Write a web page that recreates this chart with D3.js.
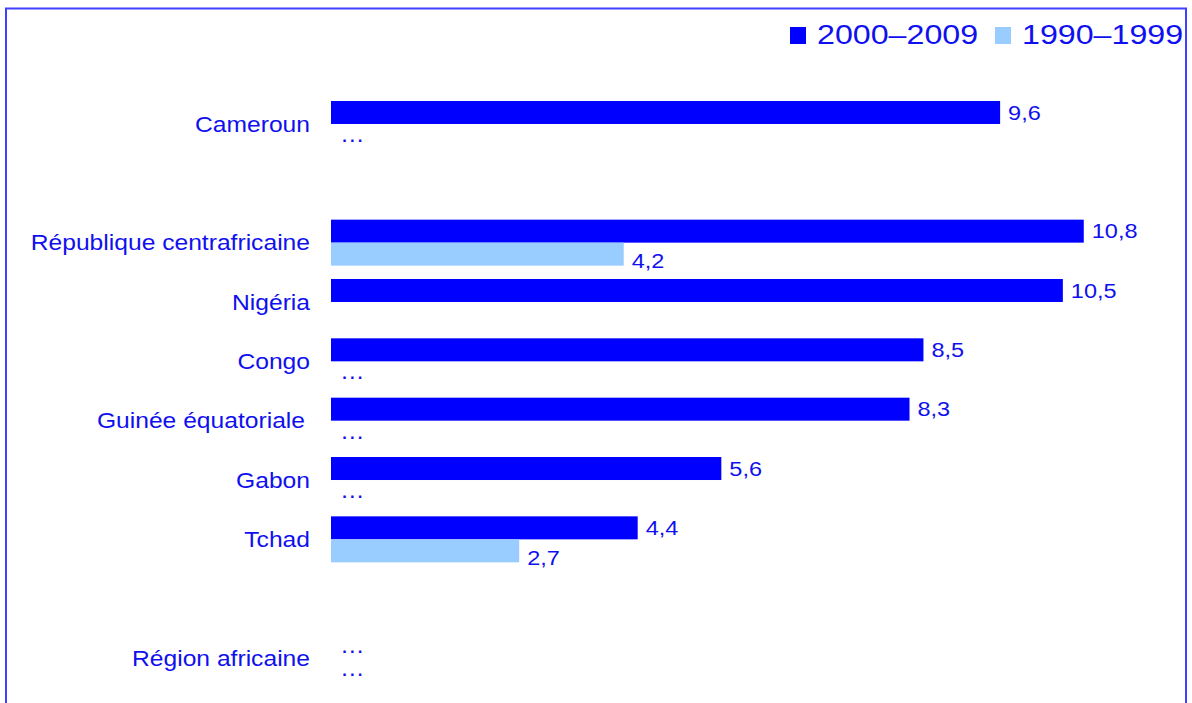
<!DOCTYPE html>
<html>
<head>
<meta charset="utf-8">
<script src="https://cdnjs.cloudflare.com/ajax/libs/d3/7.8.5/d3.min.js"></script>
<style>
  body { margin: 0; background: #fff; }
  text { font-family: "Liberation Sans", Arial, sans-serif; fill: #1010ee; }
</style>
</head>
<body>
<div id="chart"></div>
<script>
const W = 1192, H = 703;

// categories (blank entries are empty gap rows)
const categories = ["Cameroun", "", "République centrafricaine", "Nigéria", "Congo",
                    "Guinée équatoriale", "Gabon", "Tchad", " ", "Région africaine"];
// number = bar, "…" = not available, null = nothing drawn
const v2000 = [9.6, null, 10.8, 10.5, 8.5, 8.3, 5.6, 4.4, null, "…"];
const v1990 = ["…", null, 4.2, null, "…", "…", "…", 2.7, null, "…"];
const seriesNames = ["2000–2009", "1990–1999"];
const seriesColors = ["#0000ff", "#99ccff"];

const STRETCH = 1.12; // glyphs in the original are a bit wider than tall

const svg = d3.select("#chart").append("svg")
    .attr("width", W)
    .attr("height", H);

// frame
svg.append("rect")
   .attr("x", 6).attr("y", 8.5)
   .attr("width", 1180).attr("height", 720)
   .attr("fill", "none")
   .attr("stroke", "#4040ff")
   .attr("stroke-width", 2);

const x = d3.scaleLinear().domain([0, 12]).range([331, 331 + 12 * 69.7]);
const y = d3.scaleBand().domain(categories).range([94.3, 687.7]).padding(0);
const sub = d3.scaleBand().domain(seriesNames).range([-23, 23]);

const rows = categories.map((c, i) => ({cat: c, vals: [v2000[i], v1990[i]]}));

function stretched(sel, tx, ty, k) {
    sel.attr("transform", `translate(${tx},${ty}) scale(${k || STRETCH},1)`);
}

// category labels
svg.append("g").selectAll("text")
   .data(rows.filter(r => r.cat.trim() !== ""))
   .enter().append("text")
   .attr("text-anchor", "end")
   .attr("dominant-baseline", "central")
   .attr("font-size", 22)
   .text(d => d.cat)
   .each(function(d) {
       const off = d.cat.startsWith("Guinée") ? 305 : 310;
       stretched(d3.select(this), off, y(d.cat) + y.bandwidth() / 2);
   });

// bars, value labels and "…" markers
const items = [];
rows.forEach(r => r.vals.forEach((v, j) => {
    if (v !== null) items.push({cat: r.cat, s: j, v: v});
}));

const g = svg.append("g");
const mid = d => y(d.cat) + y.bandwidth() / 2;

g.selectAll("rect.bar")
 .data(items.filter(d => typeof d.v === "number"))
 .enter().append("rect")
 .attr("class", "bar")
 .attr("x", x(0))
 .attr("y", d => mid(d) + sub(seriesNames[d.s]))
 .attr("width", d => x(d.v) - x(0))
 .attr("height", sub.bandwidth())
 .attr("fill", d => seriesColors[d.s]);

g.selectAll("text.val")
 .data(items.filter(d => typeof d.v === "number"))
 .enter().append("text")
 .attr("class", "val")
 .attr("dominant-baseline", "central")
 .attr("font-size", 21)
 .text(d => d3.format(".1f")(d.v).replace(".", ","))
 .each(function(d) {
     const cy = mid(d) + sub(seriesNames[d.s]) + sub.bandwidth() / 2 + (d.s === 1 ? 7 : 0);
     stretched(d3.select(this), x(d.v) + 8, cy);
 });

g.selectAll("text.na")
 .data(items.filter(d => d.v === "…"))
 .enter().append("text")
 .attr("class", "na")
 .attr("font-size", 22)
 .text("…")
 .each(function(d) {
     const by = mid(d) + sub(seriesNames[d.s]) + sub.bandwidth() - 5;
     stretched(d3.select(this), x(0) + 9, by);
 });

// legend
const legX = [790, 995];
const leg = svg.append("g");
seriesNames.forEach((name, i) => {
    leg.append("rect")
       .attr("x", legX[i]).attr("y", 27)
       .attr("width", 16).attr("height", 17)
       .attr("fill", seriesColors[i]);
    leg.append("text")
       .attr("font-size", 28)
       .attr("dominant-baseline", "central")
       .text(name)
       .call(s => stretched(s, legX[i] + 27, 34, 1.15));
});
</script>
</body>
</html>
